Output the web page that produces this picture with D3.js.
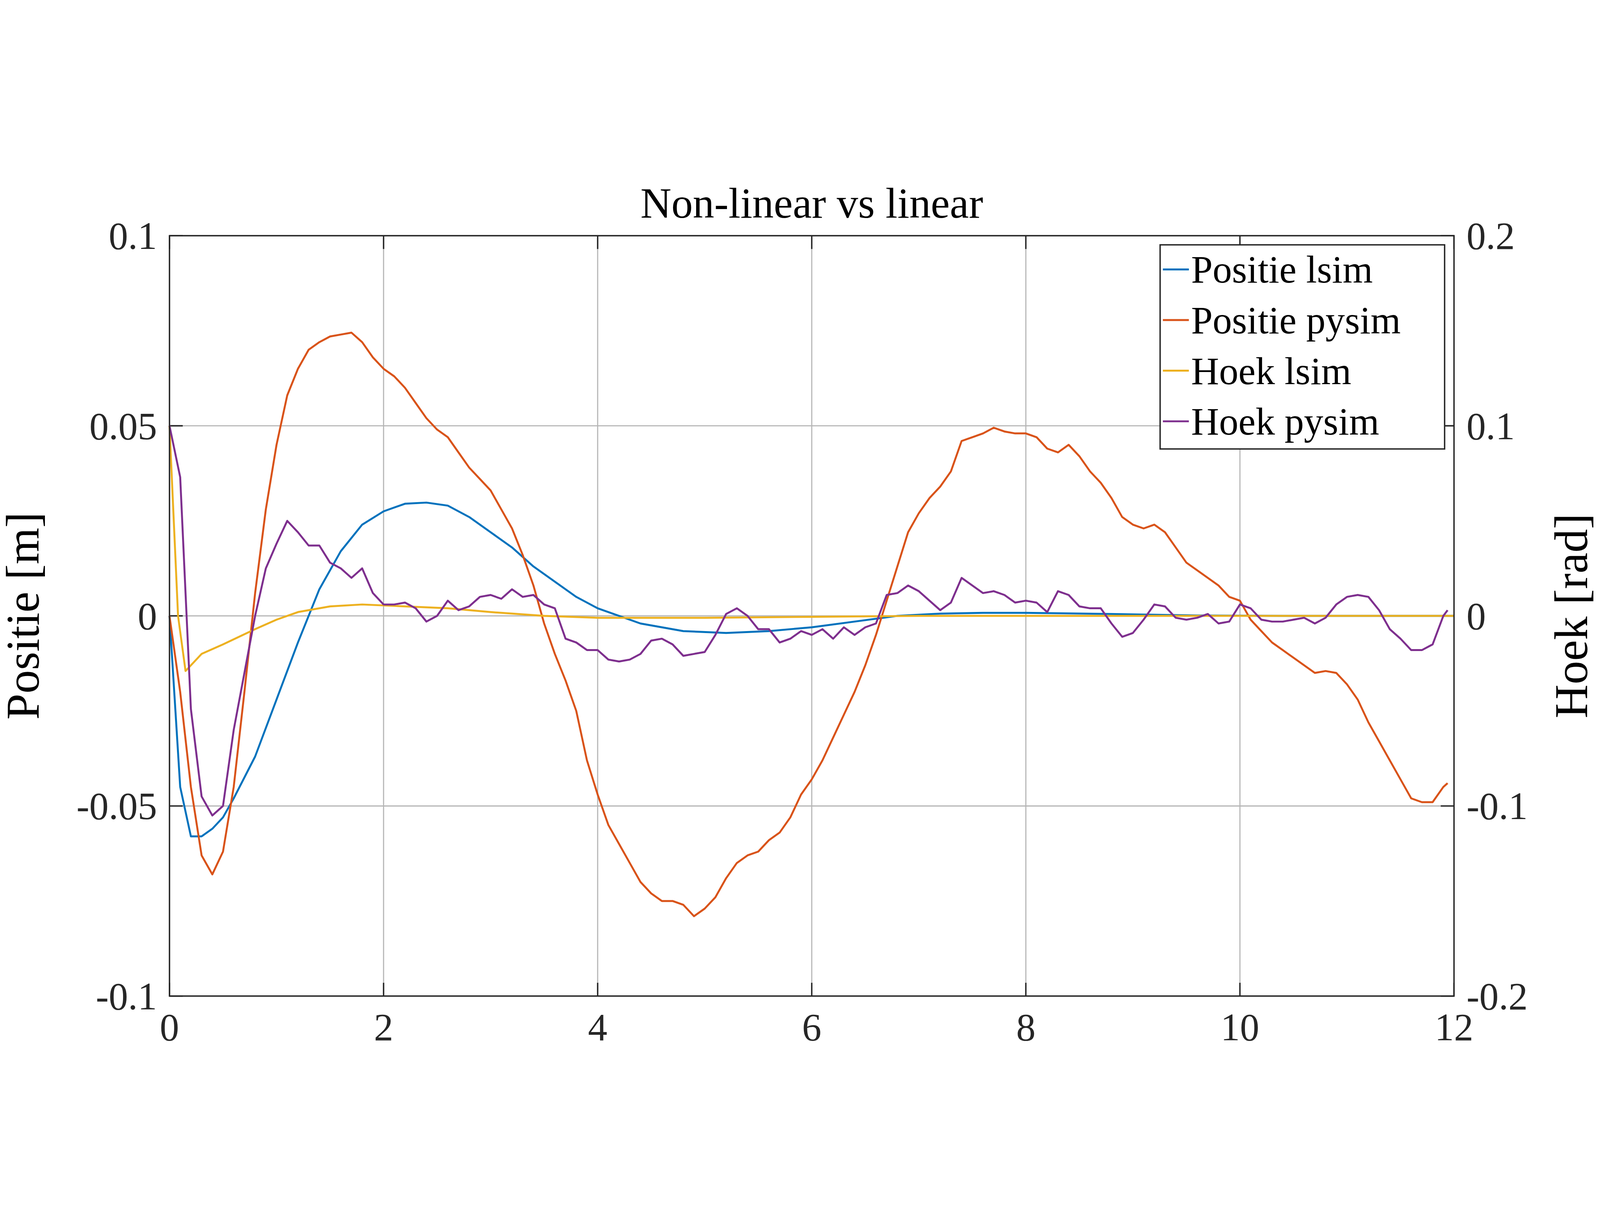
<!DOCTYPE html>
<html><head><meta charset="utf-8">
<script src="https://d3js.org/d3.v7.min.js"></script>
<style>html,body{margin:0;padding:0;background:#fff;overflow:hidden;width:100%;height:100%}svg{display:block}</style>
</head><body>
<script>
// data
var tPy = d3.range(0, 121).map(i => i / 10);
var posPysim = [0,-0.02,-0.045,-0.063,-0.068,-0.062,-0.045,-0.02,0.006,0.028,0.045,0.058,0.065,0.07,0.072,0.0735,0.074,0.0745,0.072,0.068,
 0.065,0.063,0.06,0.056,0.052,0.049,0.047,0.043,0.039,0.036,0.033,0.028,0.023,0.016,0.008,-0.002,-0.01,-0.017,-0.025,-0.038,
 -0.047,-0.055,-0.06,-0.065,-0.07,-0.073,-0.075,-0.075,-0.076,-0.079,-0.077,-0.074,-0.069,-0.065,-0.063,-0.062,-0.059,-0.057,-0.053,-0.047,
 -0.043,-0.038,-0.032,-0.026,-0.02,-0.013,-0.005,0.004,0.013,0.022,0.027,0.031,0.034,0.038,0.046,0.047,0.048,0.0495,0.0485,0.048,
 0.048,0.047,0.044,0.043,0.045,0.042,0.038,0.035,0.031,0.026,0.024,0.023,0.024,0.022,0.018,0.014,0.012,0.01,0.008,0.005,
 0.004,-0.001,-0.004,-0.007,-0.009,-0.011,-0.013,-0.015,-0.0145,-0.015,-0.018,-0.022,-0.028,-0.033,-0.038,-0.043,-0.048,-0.049,-0.049,-0.045,-0.044];
var hoekPysim = [0.1,0.073,-0.049,-0.095,-0.105,-0.1,-0.06,-0.03,0.0,0.025,0.038,0.05,0.044,0.037,0.037,0.028,0.025,0.02,0.025,0.012,
 0.006,0.006,0.007,0.004,-0.003,0,0.008,0.003,0.005,0.01,0.011,0.009,0.014,0.01,0.011,0.006,0.004,-0.012,-0.014,-0.018,
 -0.018,-0.023,-0.024,-0.023,-0.02,-0.013,-0.012,-0.015,-0.021,-0.02,-0.019,-0.01,0.001,0.004,0,-0.007,-0.007,-0.014,-0.012,-0.008,
 -0.01,-0.007,-0.012,-0.006,-0.01,-0.006,-0.004,0.011,0.012,0.016,0.013,0.008,0.003,0.007,0.02,0.016,0.012,0.013,0.011,0.007,
 0.008,0.007,0.002,0.013,0.011,0.005,0.004,0.004,-0.004,-0.011,-0.009,-0.002,0.006,0.005,-0.001,-0.002,-0.001,0.001,-0.004,-0.003,
 0.006,0.004,-0.002,-0.003,-0.003,-0.002,-0.001,-0.004,-0.001,0.006,0.01,0.011,0.01,0.003,-0.007,-0.012,-0.018,-0.018,-0.015,0.0,0.003];
var tLsim = [0,0.1,0.2,0.3,0.4,0.5,0.6,0.8,1.0,1.2,1.4,1.6,1.8,2.0,2.2,2.4,2.6,2.8,3.0,3.2,3.4,3.6,3.8,4.0,4.4,4.8,5.2,5.6,6.0,6.4,6.8,7.2,7.6,8.0,8.8,9.6,10.4,12];
var posLsim = [0,-0.045,-0.058,-0.058,-0.056,-0.053,-0.048,-0.037,-0.022,-0.007,0.007,0.017,0.024,0.0275,0.0295,0.0298,0.029,0.026,0.022,0.018,0.013,0.009,0.005,0.002,-0.002,-0.004,-0.0045,-0.004,-0.003,-0.0015,0,0.0006,0.0008,0.0008,0.0005,0.0001,0,0];
var tHoekL = [0,0.08,0.15,0.3,0.5,0.8,1.0,1.2,1.5,1.8,2.2,2.6,3.0,3.5,4.0,4.5,5.0,6.0,7.0,12];
var hoekLsim = [0.1,0.0,-0.029,-0.02,-0.015,-0.007,-0.002,0.002,0.005,0.006,0.005,0.004,0.002,0,-0.001,-0.001,-0.001,-0.0005,0,0];
var xTicks = [0,2,4,6,8,10,12];
var yTicksL = [-0.1,-0.05,0,0.05,0.1];
var yTicksR = [-0.2,-0.1,0,0.1,0.2];
var names = ["Positie lsim","Positie pysim","Hoek lsim","Hoek pysim"];
var colors = ["#0072BD","#D95319","#EDB120","#7E2F8E"];

var W = 5787, H = 3145, L = 613, R = 5259, T = 203, B = 2952;
var font = "'Liberation Serif', 'DejaVu Serif', serif";
var svg = d3.select("body").append("svg")
  .attr("viewBox", "0 0 " + W + " " + H)
  .attr("preserveAspectRatio", "xMidYMid meet")
  .style("width", "100vw").style("height", "100vh")
  .style("font-family", font);
var x = d3.scaleLinear().domain([0, 12]).range([L, R]);
var yL = d3.scaleLinear().domain([-0.1, 0.1]).range([B, T]);
var yR = d3.scaleLinear().domain([-0.2, 0.2]).range([B, T]);

// grid
var g = svg.append("g").attr("stroke", "#b5b5b5").attr("stroke-width", 4);
xTicks.forEach(v => g.append("line").attr("x1", x(v)).attr("x2", x(v)).attr("y1", T).attr("y2", B));
yTicksL.forEach(v => g.append("line").attr("x1", L).attr("x2", R).attr("y1", yL(v)).attr("y2", yL(v)));

// ticks
var tk = svg.append("g").attr("stroke", "#262626").attr("stroke-width", 5);
xTicks.forEach(v => {
  tk.append("line").attr("x1", x(v)).attr("x2", x(v)).attr("y1", B).attr("y2", B - 48);
  tk.append("line").attr("x1", x(v)).attr("x2", x(v)).attr("y1", T).attr("y2", T + 48);
});
yTicksL.forEach(v => {
  tk.append("line").attr("x1", L).attr("x2", L + 48).attr("y1", yL(v)).attr("y2", yL(v));
  tk.append("line").attr("x1", R).attr("x2", R - 48).attr("y1", yL(v)).attr("y2", yL(v));
});

// lines
var lineL = d3.line().x(d => x(d[0])).y(d => yL(d[1]));
var lineR = d3.line().x(d => x(d[0])).y(d => yR(d[1]));
var plot = svg.append("g").attr("fill", "none").attr("stroke-width", 7).attr("stroke-linejoin", "round");
plot.append("path").attr("d", lineL(d3.zip(tLsim, posLsim))).attr("stroke", colors[0]);
plot.append("path").attr("d", lineL(d3.zip(tPy.slice(0, posPysim.length), posPysim).map((d, i) => i == 120 ? [11.94, d[1]] : d))).attr("stroke", colors[1]);
plot.append("path").attr("d", lineR(d3.zip(tHoekL, hoekLsim))).attr("stroke", colors[2]);
plot.append("path").attr("d", lineR(d3.zip(tPy.slice(0, hoekPysim.length), hoekPysim).map((d, i) => i == 120 ? [11.94, d[1]] : d))).attr("stroke", colors[3]);

// box
svg.append("rect").attr("x", L).attr("y", T).attr("width", R - L).attr("height", B - T)
  .attr("fill", "none").attr("stroke", "#262626").attr("stroke-width", 5);

// tick labels
var fs = 140;
var tl = svg.append("g").attr("fill", "#262626").attr("font-size", fs);
xTicks.forEach(v => tl.append("text").attr("x", x(v)).attr("y", B + 160).attr("text-anchor", "middle").text(v));
yTicksL.forEach(v => tl.append("text").attr("x", L - 45).attr("y", yL(v) + 48).attr("text-anchor", "end").text(v));
yTicksR.forEach(v => tl.append("text").attr("x", R + 45).attr("y", yR(v) + 48).attr("text-anchor", "start").text(v));

// titles
svg.append("text").attr("x", (L + R) / 2).attr("y", 138).attr("text-anchor", "middle").attr("font-size", 155).text("Non-linear vs linear");
svg.append("text").attr("transform", "translate(140," + (T + B) / 2 + ") rotate(-90)").attr("text-anchor", "middle").attr("font-size", 170).text("Positie [m]");
svg.append("text").attr("transform", "translate(5740," + (T + B) / 2 + ") rotate(-90)").attr("text-anchor", "middle").attr("font-size", 170).text("Hoek [rad]");

// legend
var lg = svg.append("g");
lg.append("rect").attr("x", 4196).attr("y", 236).attr("width", 1029).attr("height", 738)
  .attr("fill", "#fff").attr("stroke", "#262626").attr("stroke-width", 5);
names.forEach((n, i) => {
  var yy = 325 + i * 183;
  lg.append("line").attr("x1", 4206).attr("x2", 4300).attr("y1", yy).attr("y2", yy).attr("stroke", colors[i]).attr("stroke-width", 7);
  lg.append("text").attr("x", 4308).attr("y", yy + 48).attr("font-size", 140).attr("fill", "#000").text(n);
});
</script>
</body></html>
